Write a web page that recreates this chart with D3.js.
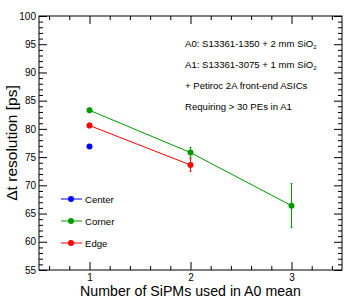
<!DOCTYPE html>
<html><head><meta charset="utf-8">
<script src="https://cdn.jsdelivr.net/npm/d3@7"></script>
<style>
html,body{margin:0;padding:0;background:#fff;}
svg{display:block;font-family:"Liberation Sans",Arial,Helvetica,sans-serif;}
</style></head>
<body>
<svg id="c" width="352" height="302"></svg>
<script>
// ---- data ----
const xTicks = [1, 2, 3];
const yTicks = [55, 60, 65, 70, 75, 80, 85, 90, 95, 100];
const nSiPM = [1, 2, 3];
const centerVals = [76.9];
const centerErr = [0.3];
const cornerVals = [83.3, 75.8, 66.4];
const cornerErr = [0.4, 0.9, 3.9];
const edgeVals = [80.6, 73.6];
const edgeErr = [0.4, 1.1];
const seriesNames = ["Center", "Corner", "Edge"];
const seriesColors = ["#0000ff", "#009a00", "#ff0000"];
const noteLines = [
  ["A0: S13361-1350 + 2 mm SiO", "2"],
  ["A1: S13361-3075 + 1 mm SiO", "2"],
  ["+ Petiroc 2A front-end ASICs", ""],
  ["Requiring > 30 PEs in A1", ""]
];
const xTitle = "Number of SiPMs used in A0 mean";
const yTitle = "\u0394t resolution [ps]";

// ---- layout ----
const L = 39, R = 342, T = 16, B = 270;
const x = d3.scaleLinear().domain([0.5, 3.5]).range([L, R]);
const y = d3.scaleLinear().domain([55, 100]).range([B, T]);
const svg = d3.select("#c");

const xMinor = d3.range(0.6, 3.45, 0.2).filter(v => Math.abs(v - Math.round(v)) > 0.01);
const yMinor = d3.range(55, 100.01, 1).filter(v => v % 5 !== 0);

function styleAxis(g) {
  g.select(".domain").remove();
  g.selectAll(".tick line").attr("stroke", "#000").attr("stroke-width", 1);
  g.selectAll("text").attr("font-size", 10).attr("fill", "#000")
   .attr("font-family", '"Liberation Sans",Arial,sans-serif');
}

// bottom
svg.append("g").attr("transform", `translate(0,${B})`)
  .call(d3.axisBottom(x).tickValues(xTicks).tickSize(-8).tickSizeOuter(0).tickPadding(4).tickFormat(d3.format("d")))
  .call(styleAxis);
svg.append("g").attr("transform", `translate(0,${B})`)
  .call(d3.axisBottom(x).tickValues(xMinor).tickSize(-4).tickSizeOuter(0).tickFormat(""))
  .call(styleAxis);
// top
svg.append("g").attr("transform", `translate(0,${T})`)
  .call(d3.axisTop(x).tickValues(xTicks).tickSize(-8).tickSizeOuter(0).tickFormat(""))
  .call(styleAxis);
svg.append("g").attr("transform", `translate(0,${T})`)
  .call(d3.axisTop(x).tickValues(xMinor).tickSize(-4).tickSizeOuter(0).tickFormat(""))
  .call(styleAxis);
// left
svg.append("g").attr("transform", `translate(${L},0)`)
  .call(d3.axisLeft(y).tickValues(yTicks).tickSize(-8).tickSizeOuter(0).tickPadding(3).tickFormat(d3.format("d")))
  .call(styleAxis);
svg.append("g").attr("transform", `translate(${L},0)`)
  .call(d3.axisLeft(y).tickValues(yMinor).tickSize(-4).tickSizeOuter(0).tickFormat(""))
  .call(styleAxis);
// right
svg.append("g").attr("transform", `translate(${R},0)`)
  .call(d3.axisRight(y).tickValues(yTicks).tickSize(-8).tickSizeOuter(0).tickFormat(""))
  .call(styleAxis);
svg.append("g").attr("transform", `translate(${R},0)`)
  .call(d3.axisRight(y).tickValues(yMinor).tickSize(-4).tickSizeOuter(0).tickFormat(""))
  .call(styleAxis);

// frame
svg.append("rect").attr("x", L).attr("y", T).attr("width", R - L).attr("height", B - T)
  .attr("fill", "none").attr("stroke", "#000").attr("stroke-width", 1);

// series
const series = [
  {vals: centerVals, err: centerErr, color: seriesColors[0]},
  {vals: cornerVals, err: cornerErr, color: seriesColors[1]},
  {vals: edgeVals, err: edgeErr, color: seriesColors[2]}
];
const line = d3.line().x(d => x(d.x)).y(d => y(d.y));
series.forEach(s => {
  const pts = s.vals.map((v, i) => ({x: nSiPM[i], y: v, e: s.err[i]}));
  const g = svg.append("g");
  if (pts.length > 1) {
    g.append("path").attr("d", line(pts)).attr("fill", "none")
      .attr("stroke", s.color).attr("stroke-width", 1);
  }
  pts.forEach(p => {
    g.append("line").attr("x1", x(p.x)).attr("x2", x(p.x))
      .attr("y1", y(p.y - p.e)).attr("y2", y(p.y + p.e))
      .attr("stroke", s.color).attr("stroke-width", 1);
    [p.y - p.e, p.y + p.e].forEach(v => {
      g.append("line").attr("x1", x(p.x) - 1).attr("x2", x(p.x) + 1)
        .attr("y1", y(v)).attr("y2", y(v)).attr("stroke", s.color).attr("stroke-width", 1);
    });
    g.append("circle").attr("cx", x(p.x)).attr("cy", y(p.y)).attr("r", 3).attr("fill", s.color);
  });
});

// legend
const lg = svg.append("g");
seriesNames.forEach((n, i) => {
  const yy = 199 + i * 22;
  lg.append("line").attr("x1", 61).attr("x2", 82).attr("y1", yy).attr("y2", yy)
    .attr("stroke", seriesColors[i]).attr("stroke-width", 1);
  lg.append("circle").attr("cx", 71).attr("cy", yy).attr("r", 3).attr("fill", seriesColors[i]);
  lg.append("text").attr("x", 85).attr("y", yy + 3.5).attr("font-size", 9.6).text(n);
});

// notes
noteLines.forEach((ln, i) => {
  const t = svg.append("text").attr("x", 185).attr("y", 46.5 + i * 21.3).attr("font-size", 9.6);
  t.append("tspan").text(ln[0]);
  if (ln[1]) t.append("tspan").attr("font-size", 6).attr("dy", 2.5).text(ln[1]);
});

// titles
svg.append("text").attr("x", (L + R) / 2).attr("y", 296).attr("text-anchor", "middle")
  .attr("font-size", 14.2).text(xTitle);
svg.append("text").attr("transform", `translate(17,${(T + B) / 2}) rotate(-90)`)
  .attr("text-anchor", "middle").attr("font-size", 15.5).text(yTitle);
</script>
</body></html>
